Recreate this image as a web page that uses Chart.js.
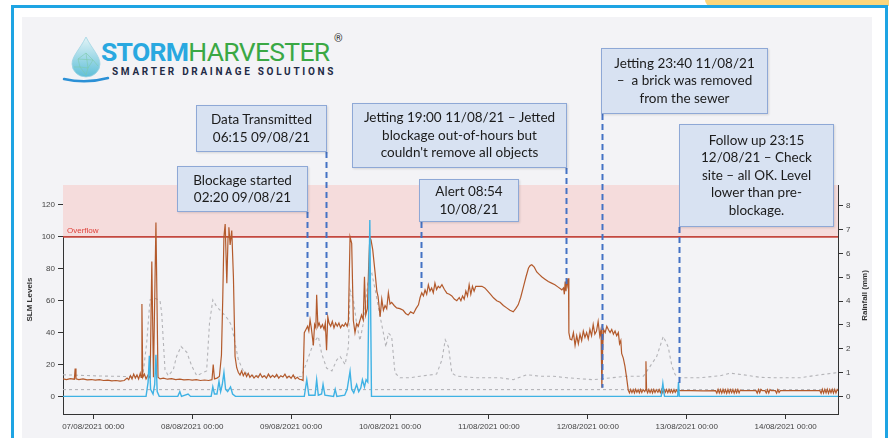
<!DOCTYPE html>
<html>
<head>
<meta charset="utf-8">
<script src="https://cdn.jsdelivr.net/npm/chart.js@4.4.1/dist/chart.umd.min.js"></script>
<style>
  html, body { margin: 0; padding: 0; background: #fff; }
  body { width: 889px; height: 438px; position: relative; overflow: hidden; font-family: "Liberation Sans", Arial, sans-serif; }
  .tab { position: absolute; left: 705px; top: 0; width: 184px; height: 6px; background: #fcd67c; border-bottom-left-radius: 6px; }
  .frame { position: absolute; left: 11px; top: 5px; width: 871px; height: 460px; border: 3px solid #1ea4e3; border-bottom: none; }
  .panel { position: absolute; left: 22px; top: 17px; width: 850px; height: 430px; background: #f3f3f6; }
  #chart { position: absolute; left: 0; top: 0; }
  .logo-word { position: absolute; left: 101px; top: 38px; font-family: Roboto, sans-serif; font-size: 26.5px; line-height: 28px; letter-spacing: -0.7px; white-space: nowrap; }
  .logo-word .a { color: #29a8e0; font-weight: 700; }
  .logo-word .b { color: #3aa844; font-weight: 400; }
  .reg { position: absolute; left: 334px; top: 32px; font-family: Roboto, sans-serif; font-size: 11px; color: #333; }
  .tagline { position: absolute; left: 112px; top: 66px; font-family: Roboto, sans-serif; font-size: 10px; line-height: 11px; font-weight: 700; letter-spacing: 2.7px; color: #1f2b46; white-space: nowrap; }
  .note { position: absolute; box-sizing: border-box; background: #d8e2f2; border: 1px solid #8ea8d6; box-shadow: 1px 1px 2px rgba(0,0,0,0.12);
          display: flex; align-items: center; justify-content: center; text-align: center;
          font-family: Lato, "Open Sans", sans-serif; font-size: 13.5px; line-height: 17.5px; color: #1b1b1b; }
</style>
</head>
<body>
<div class="tab"></div>
<div class="frame"></div>
<div class="panel"></div>

<svg style="position:absolute;left:62px;top:35px" width="50" height="50" viewBox="0 0 50 50">
  <defs>
    <linearGradient id="drop" x1="0" y1="0" x2="0" y2="1">
      <stop offset="0" stop-color="#e3f4f7"/>
      <stop offset="1" stop-color="#5fbfd8"/>
    </linearGradient>
  </defs>
  <path d="M24 2 C30 14 38 21 38 29 A14 13 0 0 1 10 29 C10 21 18 14 24 2 Z" fill="url(#drop)" stroke="#9fd4e3" stroke-width="0.8"/>
  <path d="M16 24 L24 18 L31 25 L26 33 L18 32 Z M24 18 L26 33 M16 24 L31 25 M18 32 L24 40 L26 33 M12 32 L18 32 M31 25 L36 31" fill="none" stroke="#7cc9a8" stroke-width="0.7" opacity="0.8"/>
  <path d="M2 44 Q24 49 46 43" fill="none" stroke="#2b90d6" stroke-width="2.4" stroke-linecap="round"/>
</svg>
<div class="logo-word"><span class="a">STORM</span><span class="b">HARVESTER</span></div>
<div class="reg">®</div>
<div class="tagline">SMARTER DRAINAGE SOLUTIONS</div>

<canvas id="chart" width="889" height="438"></canvas>

<div class="note" id="n0" style="left:177px;top:166px;width:131px;height:46px;">Blockage started<br>02:20 09/08/21</div>
<div class="note" id="n1" style="left:196px;top:105px;width:131px;height:47px;">Data Transmitted<br>06:15 09/08/21</div>
<div class="note" id="n2" style="left:419px;top:179px;width:100px;height:43px;">Alert 08:54<br>10/08/21</div>
<div class="note" id="n3" style="left:352px;top:103px;width:215px;height:65px;">Jetting 19:00 11/08/21 – Jetted<br>blockage out-of-hours but<br>couldn't remove all objects</div>
<div class="note" id="n4" style="left:601px;top:48px;width:167px;height:66px;">Jetting 23:40 11/08/21<br>–&nbsp; a brick was removed<br>from the sewer</div>
<div class="note" id="n5" style="left:679px;top:124px;width:155px;height:103px;">Follow up 23:15<br>12/08/21 – Check<br>site – all OK. Level<br>lower than pre-<br>blockage.</div>

<script>
// x values are hours after 07/08/2021 00:00
const tickLabels = ['07/08/2021 00:00', '08/08/2021 00:00', '09/08/2021 00:00', '10/08/2021 00:00',
                    '11/08/2021 00:00', '12/08/2021 00:00', '13/08/2021 00:00', '14/08/2021 00:00'];
const levelTicks = [0, 20, 40, 60, 80, 100, 120];
const rainTicks = [0, 1, 2, 3, 4, 5, 6, 7, 8];
const overflowLevel = 100;

// SLM level (left axis)
const slmLevel = [
  [-7.35, 11.0], [-6.5, 10.5], [-5.6, 11.2], [-4.6, 10.8], [-4.4, 17.5], [-4.2, 11.0], [-3.5, 10.6], [-2.5, 11.0],
  [-1.5, 10.4], [-0.5, 10.6], [0.5, 10.2], [1.5, 10.5], [2.5, 10.0], [3.5, 10.2], [4.5, 9.8], [5.5, 10.0],
  [6.5, 9.6], [7.5, 10.0], [8.2, 11.5], [8.6, 10.5], [9.0, 13.0], [9.4, 11.0], [9.8, 14.0], [10.2, 11.5],
  [10.6, 13.5], [11.0, 11.0], [11.4, 14.5], [11.6, 12.0], [11.8, 58.0], [12.0, 12.0], [12.4, 14.0], [12.8, 11.0],
  [13.3, 13.5], [13.8, 11.5], [14.2, 84.5], [14.6, 12.0], [15.2, 109.0], [15.7, 12.0], [16.2, 11.0], [17.0, 11.5],
  [18.0, 10.8], [19.0, 11.2], [20.0, 10.5], [21.0, 10.8], [22.0, 10.4], [23.0, 10.6], [24.0, 10.2], [25.0, 10.5],
  [26.0, 10.0], [27.0, 10.3], [28.0, 10.0], [28.8, 10.5], [29.1, 20.0], [29.4, 11.0], [30.0, 11.5], [30.6, 12.5],
  [31.1, 26.0], [31.4, 60.0], [31.7, 100.0], [32.0, 108.0], [32.4, 71.0], [32.7, 100.0], [32.9, 106.0], [33.2, 95.0],
  [33.6, 104.0], [34.0, 75.0], [34.4, 25.0], [34.8, 18.0], [35.2, 15.0], [35.6, 13.5], [36.0, 16.0], [36.4, 13.0],
  [36.8, 15.0], [37.2, 12.5], [37.6, 14.5], [38.0, 12.0], [38.5, 13.5], [39.0, 11.5], [39.5, 13.0], [40.0, 11.8],
  [40.5, 14.2], [41.0, 12.0], [41.5, 13.0], [42.0, 11.5], [42.5, 14.0], [43.0, 11.8], [43.5, 13.2], [44.0, 12.0],
  [44.5, 13.8], [45.0, 11.5], [45.5, 13.0], [46.0, 12.2], [46.5, 14.0], [47.0, 11.6], [47.5, 12.8], [48.0, 11.4],
  [48.5, 13.5], [49.0, 11.0], [49.5, 12.0], [50.0, 10.8], [50.5, 10.5], [50.9, 10.0], [51.2, 40.0], [51.6, 42.0],
  [52.0, 44.0], [52.3, 41.0], [52.6, 48.0], [52.9, 43.0], [53.4, 32.0], [53.7, 45.0], [54.0, 43.0], [54.2, 63.7],
  [54.5, 44.0], [54.8, 46.0], [55.2, 43.0], [55.6, 45.0], [56.0, 42.0], [56.3, 46.0], [56.6, 29.0], [56.9, 50.0],
  [57.2, 46.0], [57.6, 44.0], [58.0, 47.0], [58.4, 43.0], [58.8, 46.0], [59.2, 44.0], [59.6, 46.0], [60.0, 43.0],
  [60.4, 45.0], [60.8, 44.0], [61.2, 46.0], [61.6, 44.0], [61.9, 47.0], [62.3, 100.0], [62.7, 96.0], [63.1, 47.6],
  [63.5, 40.0], [63.9, 45.6], [64.3, 44.0], [64.7, 47.6], [65.1, 51.0], [65.5, 48.0], [65.8, 75.0], [66.1, 51.0],
  [66.5, 55.0], [66.8, 80.0], [67.1, 100.0], [67.4, 98.0], [67.8, 92.0], [68.4, 77.0], [68.8, 66.0], [69.1, 62.6],
  [69.6, 50.0], [70.0, 61.0], [70.4, 54.0], [70.8, 57.0], [71.2, 55.0], [71.6, 65.0], [72.0, 58.0], [72.4, 59.0],
  [73.0, 57.0], [73.6, 55.5], [74.4, 55.0], [75.2, 54.0], [75.8, 52.0], [76.4, 51.0], [77.0, 53.0], [77.7, 52.0],
  [78.3, 55.0], [78.9, 57.4], [79.3, 62.0], [79.7, 65.0], [80.1, 63.0], [80.5, 66.7], [80.9, 64.0], [81.3, 70.0],
  [81.7, 66.0], [82.1, 68.0], [82.5, 65.0], [82.9, 71.0], [83.3, 67.0], [83.7, 69.0], [84.1, 68.0], [84.6, 70.0],
  [85.2, 67.0], [85.8, 64.7], [86.4, 64.0], [87.0, 63.0], [87.6, 61.0], [88.2, 60.0], [88.8, 62.0], [89.2, 60.0],
  [89.6, 63.0], [90.0, 61.0], [90.4, 66.0], [90.8, 63.0], [91.2, 70.0], [91.6, 64.0], [92.0, 69.0], [92.4, 66.0],
  [92.8, 69.0], [93.5, 69.0], [94.3, 69.0], [95.0, 68.0], [95.7, 66.0], [96.4, 64.0], [97.1, 61.8], [97.9, 60.0],
  [98.7, 59.0], [99.5, 57.0], [100.3, 55.5], [101.1, 54.0], [101.9, 53.0], [102.5, 55.0], [103.1, 57.4], [103.7, 62.0],
  [104.4, 69.0], [105.0, 75.0], [105.6, 80.5], [106.0, 82.0], [106.4, 82.5], [107.0, 81.0], [107.6, 78.0], [108.2, 76.5],
  [108.8, 75.0], [109.6, 73.5], [110.4, 72.0], [111.2, 71.0], [112.0, 70.0], [112.8, 68.5], [113.7, 66.8], [114.1, 68.0],
  [114.3, 64.0], [114.5, 72.0], [114.7, 66.0], [114.9, 74.0], [115.1, 70.0], [115.3, 74.0], [115.4, 40.0], [115.7, 36.0],
  [116.1, 35.5], [116.5, 40.0], [116.9, 32.0], [117.3, 38.0], [117.7, 33.0], [118.1, 39.0], [118.5, 35.0], [118.9, 41.0],
  [119.3, 37.0], [119.7, 40.0], [120.1, 36.0], [120.5, 42.0], [120.9, 38.0], [121.3, 45.0], [121.7, 39.0], [122.1, 41.0],
  [122.5, 47.0], [122.9, 38.0], [123.2, 42.0], [123.4, 5.4], [123.6, 30.0], [123.8, 42.0], [124.2, 40.0], [124.6, 44.0],
  [125.0, 41.8], [125.4, 40.0], [125.8, 42.0], [126.2, 39.0], [126.6, 41.0], [127.0, 38.0], [127.4, 40.0], [127.7, 33.0],
  [128.0, 35.0], [128.2, 27.0], [128.6, 24.0], [129.0, 19.0], [129.4, 12.0], [129.8, 4.0], [130.1, 2.2], [130.4, 4.4],
  [130.7, 2.4], [131.0, 4.3], [131.3, 2.2], [131.6, 4.5], [131.9, 2.6], [132.2, 4.2], [132.5, 2.3], [132.8, 4.4],
  [133.1, 2.5], [133.4, 4.3], [133.8, 3.0], [134.0, 4.2], [134.1, 22.0], [134.25, 4.0], [134.5, 2.3], [134.8, 4.4],
  [135.1, 2.4], [135.4, 4.3], [135.7, 2.2], [136.0, 4.4], [136.3, 2.5], [136.6, 4.2], [137.0, 2.6], [137.3, 4.3],
  [137.6, 2.4], [137.9, 4.4], [138.2, 2.3], [138.5, 4.2], [138.8, 2.6], [139.1, 4.3], [139.4, 2.4], [139.7, 4.4],
  [140.0, 2.5], [140.3, 4.2], [140.6, 2.4], [140.9, 4.3], [141.2, 2.6], [141.5, 4.1], [141.8, 2.8], [142.1, 4.0],
  [142.5, 3.6], [145.0, 3.6], [148.0, 3.5], [151.0, 3.6], [151.3, 2.0], [151.6, 4.4], [151.9, 2.2], [152.2, 4.3],
  [152.5, 2.1], [152.8, 4.5], [153.1, 2.3], [153.4, 4.2], [153.7, 2.0], [154.0, 4.4], [154.3, 2.2], [154.6, 4.3],
  [154.9, 2.4], [155.2, 4.4], [155.5, 2.1], [155.8, 4.2], [156.1, 2.3], [156.4, 4.4], [156.7, 2.2], [157.0, 4.0],
  [157.3, 3.6], [160.8, 3.6], [161.1, 2.0], [161.4, 4.3], [161.7, 2.3], [162.0, 4.4], [162.3, 3.6], [163.0, 3.6],
  [163.3, 2.1], [163.6, 4.2], [163.9, 2.2], [164.2, 4.3], [164.5, 3.6], [165.5, 3.6], [165.8, 2.0], [166.1, 4.3],
  [166.4, 2.5], [166.7, 3.6], [176.3, 3.6], [176.6, 2.0], [176.9, 4.5], [177.2, 2.1], [177.5, 4.4], [177.8, 2.2],
  [178.1, 4.5], [178.4, 2.0], [178.7, 4.3], [179.0, 2.3], [179.3, 4.5], [179.6, 2.1], [179.9, 4.4], [180.2, 2.2],
  [180.5, 4.3], [180.7, 3.6]
];

// rainfall (right axis, mm)
const rainfall = [
  [-7.35, 0], [12.8, 0], [13.3, 0.6], [13.6, 1.7], [13.9, 0.3], [14.5, 0.1], [14.9, 0.5], [15.2, 1.75],
  [15.5, 0.2], [16.0, 0], [20.5, 0], [21.0, 0.2], [21.4, 0], [23.0, 0.1], [23.6, 0], [28.6, 0],
  [29.0, 0.4], [29.4, 0.1], [30.0, 0.1], [30.5, 0.63], [30.9, 0.2], [31.3, 0.5], [31.7, 1.0], [32.1, 0.3],
  [32.6, 0.2], [33.3, 0.4], [33.8, 0.1], [34.5, 0], [51.2, 0], [51.8, 0.7], [52.3, 0.05], [53.8, 0.05],
  [54.2, 0.7], [54.6, 0.05], [55.4, 0.1], [55.75, 0.5], [56.2, 0.05], [58.3, 0], [58.7, 0.3], [59.1, 0],
  [61.0, 0.05], [61.6, 0.3], [62.3, 1.05], [62.7, 0.3], [63.2, 0.15], [63.9, 0.5], [64.4, 0.2], [64.9, 0.35],
  [65.3, 0.7], [65.8, 0.4], [66.2, 0.7], [66.6, 0.6], [67.1, 7.4], [67.5, 0], [137.8, 0], [138.2, 0.55],
  [138.6, 0], [141.8, 0], [142.0, 0.6], [142.2, 0], [180.7, 0]
];

// grey dashed reference levels (left axis)
const upperBand = [
  [-7.35, 13.6], [-3.0, 13.2], [2.0, 12.8], [8.0, 12.5], [12.0, 12.5], [12.96, 33.6], [13.76, 60.5], [14.97, 61.5],
  [16.2, 60.0], [16.6, 52.0], [17.4, 16.7], [18.2, 13.0], [19.4, 16.6], [20.2, 25.0], [21.3, 31.3], [22.7, 27.6],
  [23.9, 19.0], [25.1, 13.0], [27.5, 16.0], [28.2, 46.0], [29.0, 60.5], [29.9, 56.4], [31.5, 52.0], [32.8, 48.0],
  [33.6, 44.0], [34.4, 33.4], [35.2, 23.0], [36.4, 16.0], [38.0, 13.0], [45.0, 12.5], [50.5, 12.5], [51.8, 21.5],
  [53.4, 33.4], [54.6, 37.6], [55.4, 27.0], [56.6, 17.8], [57.9, 16.0], [59.1, 23.0], [59.9, 25.0], [61.1, 20.0],
  [61.9, 31.0], [62.3, 66.8], [63.1, 61.0], [63.9, 45.6], [64.7, 35.0], [65.5, 45.6], [66.7, 73.0], [67.6, 77.0],
  [68.4, 66.8], [69.6, 50.0], [70.4, 39.7], [71.0, 31.0], [71.6, 39.7], [72.4, 37.6], [73.2, 14.8], [74.4, 11.7],
  [76.9, 11.7], [79.3, 12.7], [83.3, 14.0], [84.6, 23.0], [85.4, 35.5], [86.2, 31.0], [87.0, 14.6], [88.2, 12.7],
  [93.0, 11.7], [98.7, 11.7], [101.9, 10.5], [105.2, 13.6], [108.4, 12.7], [111.6, 12.7], [114.9, 11.7], [121.3, 10.5],
  [129.5, 12.7], [133.5, 12.7], [136.7, 25.0], [138.3, 37.6], [139.5, 31.0], [140.4, 19.0], [141.2, 13.6], [142.4, 11.7],
  [147.2, 11.7], [152.1, 13.0], [154.5, 14.6], [157.7, 13.6], [161.8, 12.0], [165.9, 11.7], [171.5, 11.7], [176.4, 13.6],
  [180.7, 15.0]
];
const lowerBand = [[-7.35, 4.3], [180.7, 4.3]];

// annotation events: time (hours) and level where the marker line stops
const eventHours = [51.9, 56.4, 79.5, 114.7, 123.4, 142.1];
const eventEndLevels = [50, 51, 67, 69, 5.4, 6];

const pts = arr => arr.map(([x, y]) => ({ x, y }));

const overlayPlugin = {
  id: 'overlay',
  beforeDatasetsDraw(chart) {
    const { ctx, chartArea: a, scales: { y } } = chart;
    const yo = y.getPixelForValue(overflowLevel);
    ctx.save();
    ctx.fillStyle = '#f5dcdc';
    ctx.fillRect(a.left, a.top, a.right - a.left, yo - a.top);
    ctx.strokeStyle = '#c4483f';
    ctx.lineWidth = 1.6;
    ctx.beginPath(); ctx.moveTo(a.left, yo); ctx.lineTo(a.right, yo); ctx.stroke();
    ctx.fillStyle = '#e0413a';
    ctx.font = '8px "Liberation Sans", Arial';
    ctx.textBaseline = 'alphabetic';
    ctx.fillText('Overflow', a.left + 4, yo - 3.5);
    ctx.restore();
  },
  afterDatasetsDraw(chart) {
    const { ctx, scales: { x, y } } = chart;
    ctx.save();
    ctx.strokeStyle = '#4472c4';
    ctx.lineWidth = 2;
    ctx.setLineDash([6, 4]);
    eventHours.forEach((h, i) => {
      const box = document.getElementById('n' + i);
      const top = box.offsetTop + box.offsetHeight;
      const px = Math.round(x.getPixelForValue(h)) + 0.5;
      ctx.beginPath();
      ctx.moveTo(px, top);
      ctx.lineTo(px, y.getPixelForValue(eventEndLevels[i]));
      ctx.stroke();
    });
    ctx.restore();
  },
  afterDraw(chart) {
    const { ctx, chartArea: a } = chart;
    const cy = (a.top + a.bottom) / 2;
    ctx.save();
    ctx.fillStyle = '#333';
    ctx.font = 'bold 8px "Liberation Sans", Arial';
    ctx.textAlign = 'center';
    ctx.textBaseline = 'middle';
    ctx.translate(30, cy);
    ctx.rotate(-Math.PI / 2);
    ctx.fillText('SLM Levels', 0, 0);
    ctx.restore();
    ctx.save();
    ctx.fillStyle = '#333';
    ctx.font = 'bold 8px "Liberation Sans", Arial';
    ctx.textAlign = 'center';
    ctx.textBaseline = 'middle';
    ctx.translate(865, cy - 4);
    ctx.rotate(-Math.PI / 2);
    ctx.fillText('Rainfall (mm)', 0, 0);
    ctx.restore();
  }
};

const tickFont = { family: '"Liberation Sans", Arial', size: 8 };
const axisGrid = { drawOnChartArea: false, drawTicks: true, tickLength: 5, color: '#333' };
const axisBorder = { display: true, color: '#333', width: 1 };

new Chart(document.getElementById('chart'), {
  type: 'line',
  data: {
    datasets: [
      { label: 'Rainfall', data: pts(rainfall), yAxisID: 'y1', borderColor: '#3fb2e4', borderWidth: 1.4, order: 0 },
      { label: 'SLM Level', data: pts(slmLevel), yAxisID: 'y', borderColor: '#b35a2c', borderWidth: 1.2, order: 1 },
      { label: 'Upper', data: pts(upperBand), yAxisID: 'y', borderColor: '#b4b4b8', borderWidth: 1.1, borderDash: [3, 3], order: 2 },
      { label: 'Lower', data: pts(lowerBand), yAxisID: 'y', borderColor: '#b4b4b8', borderWidth: 1.1, borderDash: [3, 3], order: 3 }
    ]
  },
  options: {
    responsive: false,
    animation: false,
    devicePixelRatio: 1,
    layout: { padding: { left: 23, right: 11, top: 185, bottom: 0 } },
    elements: { point: { radius: 0 }, line: { tension: 0 } },
    plugins: { legend: { display: false }, tooltip: { enabled: false } },
    scales: {
      x: {
        type: 'linear', min: -7.35, max: 180.7,
        afterBuildTicks: s => { s.ticks = tickLabels.map((_, i) => ({ value: i * 24 })); },
        afterFit: s => { s.height = 24; },
        ticks: { font: tickFont, color: '#444', padding: 3, maxRotation: 0, autoSkip: false,
                 callback: v => tickLabels[Math.round(v / 24)] },
        grid: axisGrid, border: axisBorder
      },
      y: {
        position: 'left', min: -11, max: 132.5,
        afterBuildTicks: s => { s.ticks = levelTicks.map(v => ({ value: v })); },
        afterFit: s => { s.width = 40; },
        ticks: { font: tickFont, color: '#444', padding: 3 },
        grid: axisGrid, border: axisBorder
      },
      y1: {
        position: 'right', min: -0.738, max: 8.864,
        afterBuildTicks: s => { s.ticks = rainTicks.map(v => ({ value: v })); },
        afterFit: s => { s.width = 40; },
        ticks: { font: tickFont, color: '#444', padding: 3 },
        grid: axisGrid, border: axisBorder
      }
    }
  },
  plugins: [overlayPlugin]
});
</script>
</body>
</html>
